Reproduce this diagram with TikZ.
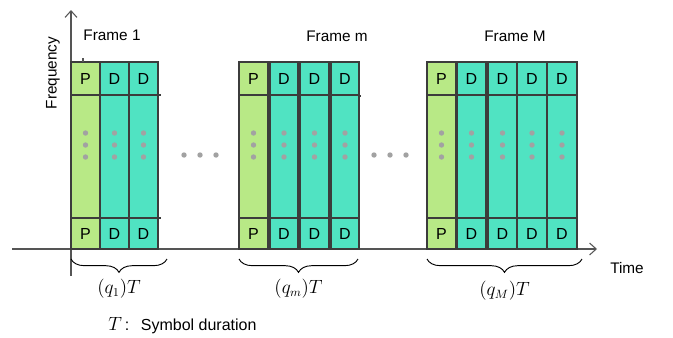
\documentclass[tikz,border=0pt]{standalone}
\usepackage[no-math]{fontspec}
\newfontfamily\arialish{Liberation Sans}
\usetikzlibrary{arrows.meta, decorations.pathreplacing}
\definecolor{slotP}{HTML}{B8E986}
\definecolor{slotD}{HTML}{50E3C2}
\definecolor{edgegray}{HTML}{3C3C3C}
\definecolor{axisgray}{HTML}{555555}
\definecolor{dotgray}{HTML}{A2A2A2}
\tikzset{>={Straight Barb[length=5pt,width=9pt]},
  slotline/.style={draw=edgegray, line width=0.8pt},
  axisline/.style={draw=axisgray, line width=0.8pt},
  celltext/.style={font=\arialish\fontsize{12}{14}\selectfont, inner sep=0pt},
  labtext/.style={font=\arialish\fontsize{11.5}{13}\selectfont, inner sep=0pt},
  mathtext/.style={font=\fontsize{13.5}{16}\selectfont, inner sep=0pt},
  underbrace/.style={decorate, decoration={brace, mirror, amplitude=10pt}, line width=0.7pt}
}

\begin{document}
\begin{tikzpicture}[x=0.75pt, y=-0.75pt]
\useasboundingbox (0,0) rectangle (673,337);
% axes
\coordinate (origin) at (71,249);
\coordinate (tleft) at (12,249);
\coordinate (tend) at (597,249);
\coordinate (ftop) at (71,10);
\coordinate (fbot) at (71,276);
\draw[axisline, ->] (tleft) -- (tend);
\draw[axisline, ->] (fbot) -- (ftop);
\node[labtext, rotate=90] (freq) at (53,73) {Frequency};
\node[labtext] (time) at (627,268) {Time};

% slots: left / right / type
\foreach \xa/\xb/\lab [count=\i] in {71/100/P, 100/129/D, 129/158/D,
    239/268/P, 270/298/D, 300/329/D, 331/359/D,
    427/456/P, 457/486/D, 488/517/D, 517/547/D, 547/577/D}
{
  \draw[slotline, fill=slot\lab] (\xa,62) rectangle (\xb,249);
  \draw[slotline] (\xa,95) -- (\xb,95) (\xa,218) -- (\xb,218);
  \node[celltext] (top\i) at ({(\xa+\xb)/2},79) {\lab};
  \node[celltext] (bot\i) at ({(\xa+\xb)/2},234) {\lab};
  \foreach \y in {133,145,157}
    \fill[dotgray] ({(\xa+\xb)/2},\y) circle (2.7);
}
\draw[slotline] (158,95) -- (161,95) (158,218) -- (161,218);
\draw[slotline] (359,96) -- (361,96);
\draw[axisline] (83,58) -- (83,62);

% dots between frames
\foreach \x in {184,200,216,374,390,406}
  \fill[dotgray] (\x,155) circle (2.7);

% frame titles
\node[labtext] (frame1) at (112,35) {Frame 1};
\node[labtext] (framem) at (337,36) {Frame m};
\node[labtext] (frameM) at (515,36) {Frame M};

% durations
\draw[underbrace] (71,259) -- (167,259) node[midway, below=15pt, mathtext] (dur1) {$(q_1)T$};
\draw[underbrace] (239,259) -- (358,259) node[midway, below=15pt, mathtext] (durm) {$(q_m)T$};
\draw[underbrace] (427,259) -- (582,259) node[midway, below=16pt, mathtext] (durM) {$(q_M)T$};

\node[labtext, anchor=west] (legend) at (108,326) {\fontsize{13.5}{16}\selectfont$T$\,\arialish\fontsize{12}{14}\selectfont:\ \ \,Symbol duration};
\end{tikzpicture}
\end{document}
